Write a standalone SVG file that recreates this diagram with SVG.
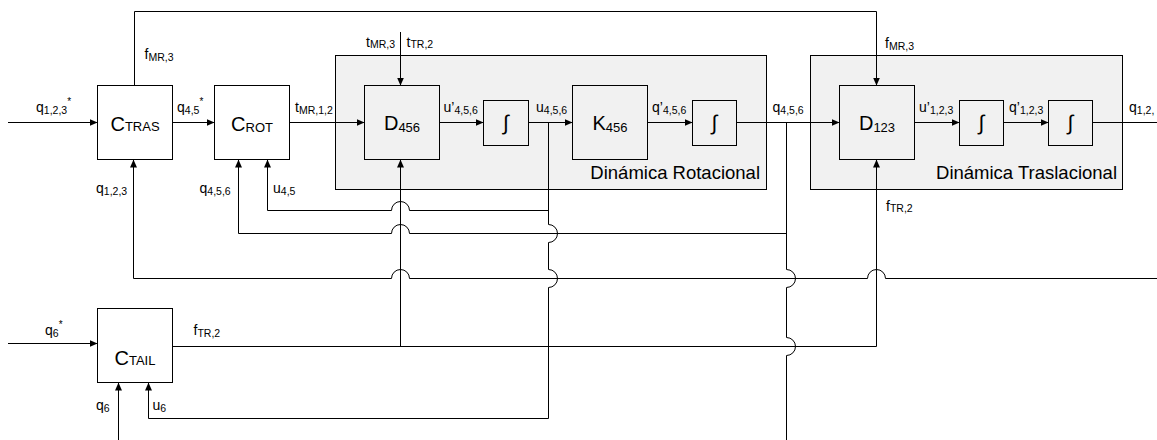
<svg xmlns="http://www.w3.org/2000/svg" width="1157" height="440" viewBox="0 0 1157 440">
<defs>
<marker id="ah" viewBox="0 0 8 8" refX="8" refY="4" markerWidth="8" markerHeight="8" orient="auto" markerUnits="userSpaceOnUse"><path d="M0,0.5 L8,4 L0,7.5 z" fill="#000"/></marker>
</defs>
<style>
.blk{fill:#fff;stroke:#000;stroke-width:1}
.blki{fill:none;stroke:#000;stroke-width:1}
.grp{fill:#f1f1f1;stroke:#000;stroke-width:1}
.ln{fill:none;stroke:#000;stroke-width:1}
.arr{marker-end:url(#ah)}
text{font-family:"Liberation Sans",Arial,sans-serif;fill:#000}
.sig{font-size:14px}
.sub{font-size:10.5px}
.sup{font-size:10px}
.big{font-size:20px}
.bsub{font-size:13px}
.ttl{font-size:18.5px}
.int{font-size:21px}
</style>
<rect width="1157" height="440" fill="#fff"/>

<g id="grp_rot">
<rect class="grp" x="335.5" y="55.5" width="431" height="134"/>
<text class="ttl" x="760" y="179" text-anchor="end">Dinámica Rotacional</text>
</g>
<g id="grp_tras">
<rect class="grp" x="810.5" y="55.5" width="312" height="134"/>
<text class="ttl" x="1117" y="179" text-anchor="end">Dinámica Traslacional</text>
</g>

<g id="connectors">
<path class="ln arr" d="M8,122.5 H97.5"/>
<path class="ln arr" d="M172.5,122.5 H214.5"/>
<path class="ln arr" d="M289.5,122.5 H364.5"/>
<path class="ln arr" d="M439.5,122.5 H483.5"/>
<path class="ln arr" d="M528.5,122.5 H572.5"/>
<path class="ln arr" d="M647.5,122.5 H692.5"/>
<path class="ln arr" d="M736.5,122.5 H839.5"/>
<path class="ln arr" d="M914.5,122.5 H959.5"/>
<path class="ln arr" d="M1003.5,122.5 H1048.5"/>
<path class="ln" d="M1092.5,122.5 H1157"/>
<path class="ln arr" d="M134.5,85.5 V11.5 H876.5 V85.5"/>
<path class="ln arr" d="M400.5,32 V85.5"/>
<path class="ln arr" d="M400.5,346.5 V159.5"/>
<path class="ln arr" d="M172.5,346.5 H876.5 V159.5"/>
<path class="ln arr" d="M548.5,210.5 H409.5 A9,9 0 0 0 391.5,210.5 H267.5 V159.5"/>
<path class="ln arr" d="M786.5,233.5 H409.5 A9,9 0 0 0 391.5,233.5 H238.5 V159.5"/>
<path class="ln arr" d="M1157,278.5 H885.5 A9,9 0 0 0 867.5,278.5 H409.5 A9,9 0 0 0 391.5,278.5 H133.5 V159.5"/>
<path class="ln arr" d="M548.5,122.5 V224.5 A9,9 0 0 1 548.5,242.5 V269.5 A9,9 0 0 1 548.5,287.5 V418.5 H148.5 V382.5"/>
<path class="ln" d="M786.5,122.5 V269.5 A9,9 0 0 1 786.5,287.5 V337.5 A9,9 0 0 1 786.5,355.5 V440"/>
<path class="ln arr" d="M8,343.5 H97.5"/>
<path class="ln arr" d="M118.5,440 V382.5"/>
</g>

<g id="c_tras">
<rect class="blk" x="97.5" y="85.5" width="75" height="74"/>
<text class="big" x="135" y="131" text-anchor="middle">C<tspan class="bsub">TRAS</tspan></text>
</g>
<g id="c_rot">
<rect class="blk" x="214.5" y="85.5" width="75" height="74"/>
<text class="big" x="252" y="131" text-anchor="middle">C<tspan class="bsub" dy="1">ROT</tspan></text>
</g>
<g id="d456">
<rect class="blki" x="364.5" y="85.5" width="75" height="74"/>
<text class="big" x="402" y="129.5" text-anchor="middle">D<tspan class="bsub" dy="2.5">456</tspan></text>
</g>
<g id="int1">
<rect class="blki" x="483.5" y="100.5" width="45" height="45"/>
<text class="int" x="506" y="130" text-anchor="middle">∫</text>
</g>
<g id="k456">
<rect class="blki" x="572.5" y="85.5" width="75" height="74"/>
<text class="big" x="610" y="129.5" text-anchor="middle">K<tspan class="bsub" dy="2.5">456</tspan></text>
</g>
<g id="int2">
<rect class="blki" x="692.5" y="100.5" width="44" height="45"/>
<text class="int" x="714.5" y="130" text-anchor="middle">∫</text>
</g>
<g id="d123">
<rect class="blki" x="839.5" y="85.5" width="75" height="74"/>
<text class="big" x="877" y="129.5" text-anchor="middle">D<tspan class="bsub" dy="2.5">123</tspan></text>
</g>
<g id="int3">
<rect class="blki" x="959.5" y="100.5" width="44" height="45"/>
<text class="int" x="981.5" y="130" text-anchor="middle">∫</text>
</g>
<g id="int4">
<rect class="blki" x="1048.5" y="100.5" width="44" height="45"/>
<text class="int" x="1070.5" y="130" text-anchor="middle">∫</text>
</g>
<g id="c_tail">
<rect class="blk" x="97.5" y="308.5" width="75" height="74"/>
<text class="big" x="135" y="365" text-anchor="middle">C<tspan class="bsub">TAIL</tspan></text>
</g>

<g id="labels">
<text class="sig" x="36" y="112">q<tspan class="sub" dy="1.5">1,2,3</tspan><tspan class="sup" dy="-8.5">*</tspan></text>
<text class="sig" x="144.5" y="59">f<tspan class="sub" dy="1.5">MR,3</tspan></text>
<text class="sig" x="177" y="112">q<tspan class="sub" dy="1.5">4,5</tspan><tspan class="sup" dy="-8.5">*</tspan></text>
<text class="sig" x="295" y="112">t<tspan class="sub" dy="1.5">MR,1,2</tspan></text>
<text class="sig" x="395" y="46.5" text-anchor="end">t<tspan class="sub" dy="1.5">MR,3</tspan></text>
<text class="sig" x="406.5" y="46.5">t<tspan class="sub" dy="1.5">TR,2</tspan></text>
<text class="sig" x="443.5" y="112">u’<tspan class="sub" dy="1.5">4,5,6</tspan></text>
<text class="sig" x="536" y="112">u<tspan class="sub" dy="1.5">4,5,6</tspan></text>
<text class="sig" x="652" y="112">q’<tspan class="sub" dy="1.5">4,5,6</tspan></text>
<text class="sig" x="772.5" y="112">q<tspan class="sub" dy="1.5">4,5,6</tspan></text>
<text class="sig" x="885" y="48">f<tspan class="sub" dy="1.5">MR,3</tspan></text>
<text class="sig" x="919" y="112">u’<tspan class="sub" dy="1.5">1,2,3</tspan></text>
<text class="sig" x="1009" y="112">q’<tspan class="sub" dy="1.5">1,2,3</tspan></text>
<text class="sig" x="1129" y="112">q<tspan class="sub" dy="1.5">1,2,</tspan></text>
<text class="sig" x="96" y="193">q<tspan class="sub" dy="1.5">1,2,3</tspan></text>
<text class="sig" x="199.5" y="193">q<tspan class="sub" dy="1.5">4,5,6</tspan></text>
<text class="sig" x="273" y="193">u<tspan class="sub" dy="1.5">4,5</tspan></text>
<text class="sig" x="886" y="210.5">f<tspan class="sub" dy="1.5">TR,2</tspan></text>
<text class="sig" x="45" y="335">q<tspan class="sub" dy="1.5">6</tspan><tspan class="sup" dy="-8.5">*</tspan></text>
<text class="sig" x="193.5" y="335">f<tspan class="sub" dy="1.5">TR,2</tspan></text>
<text class="sig" x="96" y="410">q<tspan class="sub" dy="1.5">6</tspan></text>
<text class="sig" x="152.5" y="410">u<tspan class="sub" dy="1.5">6</tspan></text>
</g>
</svg>
